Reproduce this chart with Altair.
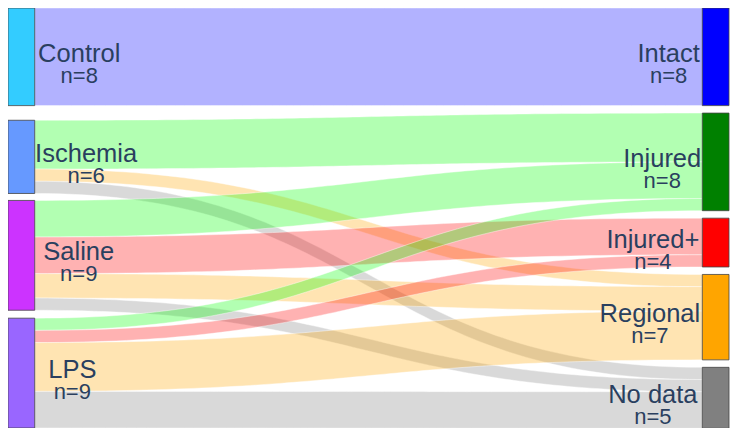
import altair as alt
import pandas as pd
import numpy as np

# ---------------- data ----------------
sources = ["Control", "Ischemia", "Saline", "LPS"]
targets = ["Intact", "Injured", "Injured+", "Regional", "No data"]
source_colors = ["#33ccff", "#6699ff", "#cc33ff", "#9966ff"]
target_colors = ["#0000ff", "#008000", "#ff0000", "#ffa500", "#808080"]
link_target_colors = ["#0000ff", "#00ff00", "#ff0000", "#ffa500", "#808080"]

link_source = ["Control", "Ischemia", "Ischemia", "Ischemia",
               "Saline", "Saline", "Saline", "Saline",
               "LPS", "LPS", "LPS", "LPS"]
link_target = ["Intact", "Injured", "Regional", "No data",
               "Injured", "Injured+", "Regional", "No data",
               "Injured", "Injured+", "Regional", "No data"]
link_value = [8, 4, 1, 1, 3, 3, 2, 1, 1, 1, 4, 3]

# ---------------- layout (not data) ----------------
left_gaps = [1.2, 0.57, 0.65]          # gaps between left nodes, in flow units
right_gap = 0.612                       # gaps between right nodes, in flow units
left_x = (4, 31)                        # reference pixel columns of node bars
right_x = (706, 733)
left_label_cx = [76, 83, 75.5, 69]
right_label_cx = [672, 665.5, 656, 653, 656]
W, H = 722, 420
X_DOM = [4, 734]

def node_values(names, key):
    return [sum(v for n, v in zip(key, link_value) if n == nm) for nm in names]

src_vals = node_values(sources, link_source)
tgt_vals = node_values(targets, link_target)
T = sum(src_vals) + sum(left_gaps)

nodes = []
y = 0.0
src_y0 = {}
for i, (nm, v) in enumerate(zip(sources, src_vals)):
    src_y0[nm] = y
    nodes.append(dict(name=nm, x0=left_x[0], x1=left_x[1], y0=y, y1=y + v,
                      color=source_colors[i], n=f"n={v}", cx=left_label_cx[i],
                      yc=y + v / 2))
    y += v + (left_gaps[i] if i < len(left_gaps) else 0)
y = 0.0
tgt_y0 = {}
for i, (nm, v) in enumerate(zip(targets, tgt_vals)):
    tgt_y0[nm] = y
    nodes.append(dict(name=nm, x0=right_x[0], x1=right_x[1], y0=y, y1=y + v,
                      color=target_colors[i], n=f"n={v}", cx=right_label_cx[i],
                      yc=y + v / 2))
    y += v + right_gap
nodes_df = pd.DataFrame(nodes)

# link bands (cubic Bezier ribbons, curvature 0.5)
s = np.linspace(0, 1, 80)
bx = 1.5 * s * (1 - s) + s ** 3
by = 3 * s ** 2 - 2 * s ** 3
xa, xb = left_x[1], right_x[0]
out_off = {nm: 0.0 for nm in sources}
in_off = {nm: 0.0 for nm in targets}
rows = []
for k, (sn, tn, v) in enumerate(zip(link_source, link_target, link_value)):
    ys = src_y0[sn] + out_off[sn]
    yt = tgt_y0[tn] + in_off[tn]
    out_off[sn] += v
    in_off[tn] += v
    col = link_target_colors[targets.index(tn)]
    for xi, yi in zip(xa + (xb - xa) * bx, by):
        top = ys + (yt - ys) * yi
        rows.append(dict(link=k, x=xi, top=top, bot=top + v, color=col))
links_df = pd.DataFrame(rows)

xs = alt.Scale(domain=X_DOM, range=[0, W], nice=False, zero=False)
ys_ = alt.Scale(domain=[0, T], range=[0, H], nice=False, zero=False)

links = alt.Chart(links_df).mark_area(
    interpolate="linear", fillOpacity=0.3, stroke="white",
    strokeWidth=0.6, strokeOpacity=0.7
).encode(
    x=alt.X("x:Q", scale=xs, axis=None),
    y=alt.Y("top:Q", scale=ys_, axis=None),
    y2="bot:Q",
    color=alt.Color("color:N", scale=None),
    detail="link:N",
)

node_rects = alt.Chart(nodes_df).mark_rect(stroke="#444", strokeWidth=0.8).encode(
    x=alt.X("x0:Q", scale=xs, axis=None), x2="x1:Q",
    y=alt.Y("y0:Q", scale=ys_, axis=None), y2="y1:Q",
    color=alt.Color("color:N", scale=None),
)

name_text = alt.Chart(nodes_df).mark_text(
    font="Liberation Sans", fontSize=25.5, color="#2a3f5f",
    align="center", baseline="alphabetic", dy=5
).encode(
    x=alt.X("cx:Q", scale=xs, axis=None),
    y=alt.Y("yc:Q", scale=ys_, axis=None),
    text="name:N",
)

n_text = alt.Chart(nodes_df).mark_text(
    font="Liberation Sans", fontSize=22, color="#2a3f5f",
    align="center", baseline="alphabetic", dy=26
).encode(
    x=alt.X("cx:Q", scale=xs, axis=None),
    y=alt.Y("yc:Q", scale=ys_, axis=None),
    text="n:N",
)

chart = alt.layer(links, node_rects, name_text, n_text).properties(
    width=W, height=H, padding=0, autosize=alt.AutoSizeParams(type="none")
).configure_view(stroke=None)

chart.save("out.html", embed_options={"renderer": "svg", "actions": False})
